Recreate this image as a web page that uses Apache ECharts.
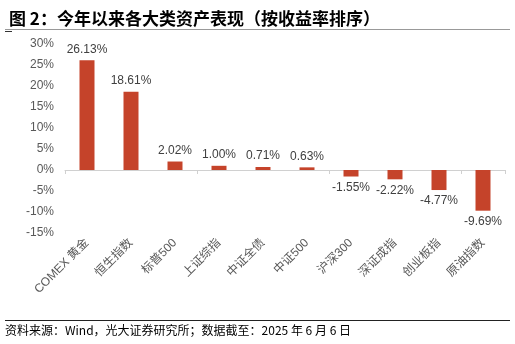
<!DOCTYPE html>
<html><head><meta charset="utf-8">
<script src="https://cdn.jsdelivr.net/npm/echarts@6/dist/echarts.min.js"></script>
<style>html,body{margin:0;padding:0;background:#fff}#c{width:515px;height:344px}</style>
</head><body><div id="c"></div>
<script>
const categories = ['COMEX 黄金','恒生指数','标普500','上证综指','中证全债','中证500','沪深300','深证成指','创业板指','原油指数'];
const values = [26.13, 18.61, 2.02, 1.00, 0.71, 0.63, -1.55, -2.22, -4.77, -9.69];
const yTicks = [-15, -10, -5, 0, 5, 10, 15, 20, 25, 30];
const titleText = '图 2：今年以来各大类资产表现（按收益率排序）';
const sourceText = '资料来源：Wind，光大证券研究所；数据截至：2025 年 6 月 6 日';

const chart = echarts.init(document.getElementById('c'), null, {renderer:'canvas'});
const font = '"Liberation Sans", Arial, "Noto Sans CJK SC", sans-serif';
chart.setOption({
  animation:false,
  title:{text:titleText, left:4, top:5, textStyle:{fontSize:17, fontWeight:'bold', color:'#000', fontFamily:'"Noto Sans CJK SC", sans-serif'}},
  graphic:[
    {type:'line', shape:{x1:5,y1:29.5,x2:510,y2:29.5}, style:{stroke:'#999', lineWidth:1}},
    {type:'line', shape:{x1:5,y1:31.5,x2:12,y2:31.5}, style:{stroke:'#333', lineWidth:1}},
    {type:'line', shape:{x1:5,y1:320.5,x2:510,y2:320.5}, style:{stroke:'#222', lineWidth:1}},
    {type:'text', left:5, top:324, style:{text:sourceText, fontSize:12, fill:'#000', fontFamily:'"Noto Sans CJK SC", sans-serif'}}
  ],
  grid:{left:65, right:10, top:44, bottom:111},
  xAxis:[
    {type:'category', data:categories, axisLine:{onZero:true, lineStyle:{color:'#d0d0d0'}},
     axisTick:{show:true, lineStyle:{color:'#d0d0d0'}, length:4}, axisLabel:{show:false}},
    {type:'category', data:categories, position:'bottom', axisLine:{show:false, onZero:false}, axisTick:{show:false},
     axisLabel:{rotate:45, fontSize:12, color:'#595959', margin:8, fontFamily:font, interval:0}}
  ],
  yAxis:{type:'value', min:yTicks[0], max:yTicks[yTicks.length-1], interval:5,
    axisLine:{show:false}, axisTick:{show:false}, splitLine:{show:false},
    axisLabel:{formatter:'{value}%', fontSize:12, color:'#595959', margin:11, fontFamily:font}},
  series:[{type:'bar', data:values, barWidth:15, itemStyle:{color:'#C5432A'},
    label:{show:true, formatter:p=>p.value.toFixed(2)+'%', fontSize:12, color:'#404040', fontFamily:font,
      position:'top', distance:5}}]
});
// negative labels below
chart.setOption({series:[{data:values.map(v=>({value:v, label:{position:v<0?'bottom':'top'}}))}]});
</script></body></html>
